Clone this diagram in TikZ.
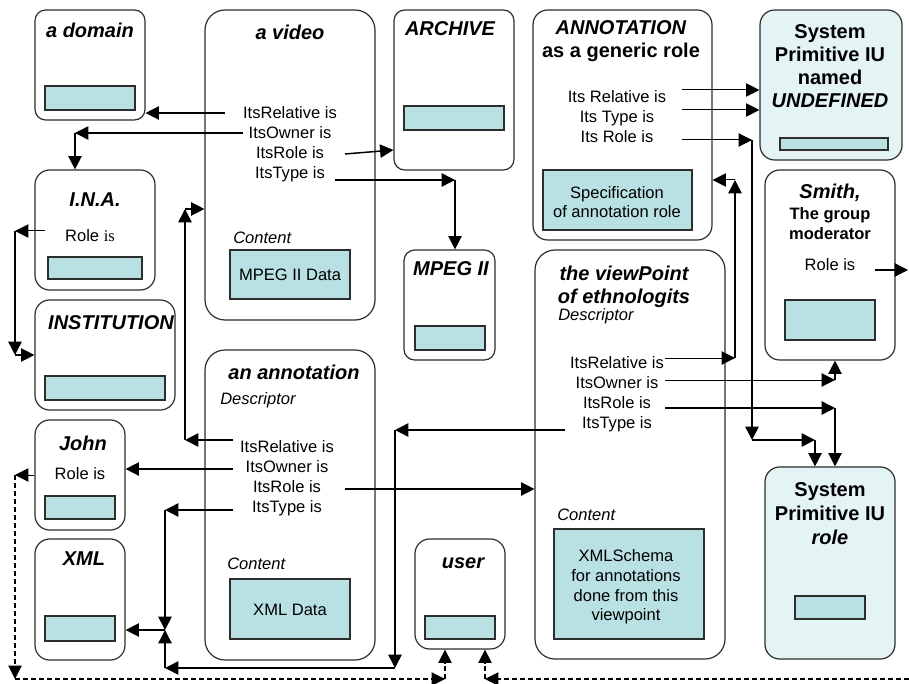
\documentclass[tikz,border=0pt]{standalone}
\usepackage{fontspec}
\setmainfont{Liberation Sans}
\newfontfamily\serifis{Liberation Serif}
\usetikzlibrary{arrows.meta,fit}
\definecolor{slotcyan}{RGB}{185,224,227}
\definecolor{syscyan}{RGB}{228,243,244}
\definecolor{boxline}{RGB}{45,45,45}
\tikzset{
	ubox/.style = {draw = boxline, line width = 0.9pt, rounded corners = 8pt, inner sep = 0pt},
	bigubox/.style = {ubox, rounded corners = 15pt},
	sysubox/.style = {ubox, rounded corners = 11pt, fill = syscyan},
	slot/.style = {draw = boxline, line width = 0.9pt, fill = slotcyan, inner sep = 0pt},
	slottxt/.style = {inner sep = 0pt, align = center, font = \fontsize{12.4}{14.8}\selectfont},
	ttl/.style = {inner sep = 0pt, align = center, font = \fontsize{15}{17.6}\selectfont\bfseries\itshape},
	systtl/.style = {inner sep = 0pt, align = center, font = \fontsize{15}{17.4}\selectfont\bfseries},
	lbl/.style = {inner sep = 0pt, text height = 9pt, text depth = 1pt, font = \fontsize{12.4}{14.6}\selectfont},
	sublbl/.style = {lbl, anchor = west, font = \fontsize{12.4}{14.6}\selectfont\itshape},
	conn/.style = {line width = 1.1pt, -{Triangle[length = 10pt, width = 10pt]}},
	thinconn/.style = {conn, line width = 0.75pt},
	dashconn/.style = {conn, line width = 0.8pt, dash pattern = on 3.5pt off 2.5pt}
}
\begin{document}
\begin{tikzpicture}[x = 0.75pt, y = -0.75pt]
		\useasboundingbox (0, 0) rectangle (909, 684);
		\node [ubox, fit = {(35, 10) (145, 120)}](domain) {};
		\node [bigubox, fit = {(205, 10) (375, 320)}](video) {};
		\node [ubox, fit = {(394, 10) (514, 170)}](archive) {};
		\node [ubox, rounded corners = 11pt, fit = {(533, 10) (712, 240)}](annot_role) {};
		\node [sysubox, fit = {(760, 10) (902, 160)}](undefined) {};
		\node [ubox, rounded corners = 11pt, fit = {(35, 170) (155, 290)}](ina) {};
		\node [ubox, rounded corners = 11pt, fit = {(35, 300) (175, 410)}](institution) {};
		\node [ubox, fit = {(404, 250) (495, 360)}](mpeg) {};
		\node [ubox, rounded corners = 11pt, fit = {(765, 170) (895, 360)}](smith) {};
		\node [bigubox, fit = {(535, 250) (725, 659)}](viewpoint) {};
		\node [bigubox, fit = {(205, 350) (375, 660)}](annotation) {};
		\node [ubox, rounded corners = 11pt, fit = {(35, 420) (125, 530)}](john) {};
		\node [ubox, rounded corners = 11pt, fit = {(35, 539) (125, 660)}](xml) {};
		\node [ubox, rounded corners = 11pt, fit = {(415, 539) (505, 649)}](user) {};
		\node [sysubox, fit = {(765, 467) (895, 659)}](sysrole) {};

		\node [slot, fit = {(45, 86) (135, 110)}](domain_c) {};
		\node [slot, fit = {(404, 106) (504, 130)}](archive_c) {};
		\node [slot, fit = {(780, 138) (888, 150)}](undefined_c) {};
		\node [slot, fit = {(48, 257) (142, 279)}](ina_c) {};
		\node [slot, fit = {(45, 376) (165, 400)}](institution_c) {};
		\node [slot, fit = {(415, 326) (485, 350)}](mpeg_c) {};
		\node [slot, fit = {(785, 300) (875, 340)}](smith_c) {};
		\node [slot, fit = {(45, 496) (115, 519)}](john_c) {};
		\node [slot, fit = {(45, 616) (115, 641)}](xml_c) {};
		\node [slot, fit = {(425, 616) (495, 639)}](user_c) {};
		\node [slot, fit = {(795, 596) (865, 619)}](sysrole_c) {};
		\node [slot, fit = {(230, 250) (350, 299)}](video_data) {};
		\node [slot, fit = {(230, 579) (350, 639)}](annot_data) {};
		\node [slot, fit = {(543, 170) (692, 230)}](spec_data) {};
		\node [slot, fit = {(554, 529) (704, 639)}](schema_data) {};
		\node [slottxt](video_data_t) at (290, 275) {MPEG II Data};
		\node [slottxt](annot_data_t) at (290, 610) {XML Data};
		\node [slottxt](spec_data_t) at (617, 202) {Specification\\of annotation role};
		\node [slottxt](schema_data_t) at (626, 587) {XMLSchema\\for annotations\\done from this\\viewpoint};

		\node [ttl](domain_t) at (90, 30) {a domain};
		\node [ttl](video_t) at (290, 32) {a video};
		\node [ttl](archive_t) at (450, 29) {ARCHIVE};
		\node [systtl](annot_role_t) at (621, 41) {\textit{ANNOTATION}\\as a generic role};
		\node [systtl](undefined_t) at (830, 66) {System\\Primitive IU\\named\\\textit{UNDEFINED}};
		\node [ttl](ina_t) at (95, 200) {I.N.A.};
		\node [ttl](institution_t) at (111, 323) {INSTITUTION};
		\node [ttl](john_t) at (83, 443) {John};
		\node [ttl](xml_t) at (84, 559) {XML};
		\node [ttl](annotation_t) at (294, 372) {an annotation};
		\node [ttl](mpeg_t) at (451, 269) {MPEG II};
		\node [ttl](user_t) at (463, 563) {user};
		\node [ttl](viewpoint_t) at (624, 287) {the viewPoint\\of ethnologits};
		\node [ttl](smith_t) at (830, 193) {Smith,};
		\node [systtl, font = \fontsize{12.4}{15}\selectfont\bfseries](smith_sub) at (830, 224) {The group\\moderator};
		\node [systtl, font = \fontsize{15}{18}\selectfont\bfseries](sysrole_t) at (830, 514) {System\\Primitive IU\\\textit{role}};

		\node [sublbl](video_content) at (233, 238) {Content};
		\node [sublbl](annot_descr) at (220, 399) {Descriptor};
		\node [sublbl](annot_content) at (227, 564) {Content};
		\node [sublbl](view_descr) at (558, 315) {Descriptor};
		\node [sublbl](view_content) at (557, 515) {Content};

		\node [lbl](v_rel_t) at (290, 113) {ItsRelative is};
		\node [lbl](v_own_t) at (290, 133) {ItsOwner is};
		\node [lbl](v_role_t) at (290, 153) {ItsRole is};
		\node [lbl](v_type_t) at (290, 173) {ItsType is};
		\node [lbl](a_rel_t) at (287, 447) {ItsRelative is};
		\node [lbl](a_own_t) at (287, 467) {ItsOwner is};
		\node [lbl](a_role_t) at (287, 487) {ItsRole is};
		\node [lbl](a_type_t) at (287, 507) {ItsType is};
		\node [lbl](p_rel_t) at (617, 363) {ItsRelative is};
		\node [lbl](p_own_t) at (617, 383) {ItsOwner is};
		\node [lbl](p_role_t) at (617, 403) {ItsRole is};
		\node [lbl](p_type_t) at (617, 423) {ItsType is};
		\node [lbl](r_rel_t) at (617, 97) {Its Relative is};
		\node [lbl](r_type_t) at (617, 117) {Its Type is};
		\node [lbl](r_role_t) at (617, 137) {Its Role is};
		\node [lbl](ina_role_t) at (90, 236) {Role {\serifis is}};
		\node [lbl](john_role_t) at (80, 474) {Role is};
		\node [lbl](smith_role_t) at (830, 265) {Role is};

		\coordinate (v_rel) at (225, 113);
		\draw [conn] (v_rel) -- (v_rel -| domain.east);
		\coordinate (v_own) at (243, 133);
		\coordinate (v_own_k) at (75, 133);
		\draw [conn] (v_own) -- (v_own_k);
		\draw [conn] (v_own_k) -- (v_own_k |- ina.north);
		\coordinate (v_role) at (345, 154);
		\draw [conn] (v_role) -- ([yshift = 3pt]v_role -| archive.west);
		\coordinate (v_type) at (335, 180);
		\coordinate (v_type_k) at (455, 180);
		\draw [conn] (v_type) -- (v_type_k);
		\draw [conn] (v_type_k) -- (v_type_k |- mpeg.north);

		\coordinate (i_role) at (45, 231);
		\coordinate (i_role_k) at (15, 231);
		\draw [thinconn] (i_role) -- (i_role_k);
		\draw [conn] (i_role_k) -- (i_role_k |- institution.west);
		\draw [conn] (i_role_k |- institution.west) -- (institution.west);

		\coordinate (a_rel) at (233, 440);
		\coordinate (a_rel_k) at (185, 440);
		\coordinate (a_rel_k2) at (185, 209);
		\draw [conn] (a_rel) -- (a_rel_k);
		\draw [conn] (a_rel_k) -- (a_rel_k2);
		\draw [conn] (a_rel_k2) -- (a_rel_k2 -| video.west);
		\coordinate (a_own) at (233, 469);
		\draw [conn] (a_own) -- (a_own -| john.east);
		\coordinate (a_role) at (345, 489);
		\draw [conn] (a_role) -- (a_role -| viewpoint.west);
		\coordinate (a_type) at (233, 510);
		\coordinate (a_type_k) at (165, 510);
		\coordinate (x_join) at (165, 630);
		\draw [conn] (a_type) -- (a_type_k);
		\draw [conn] (a_type_k) -- (x_join);
		\draw [conn] (x_join) -- (x_join -| xml.east);

		\coordinate (p_rel) at (665, 358);
		\coordinate (p_rel_k) at (735, 358);
		\coordinate (p_rel_k2) at (735, 180);
		\draw [thinconn] (p_rel) -- (p_rel_k);
		\draw [conn] (p_rel_k) -- (p_rel_k2);
		\draw [thinconn] (p_rel_k2) -- (p_rel_k2 -| annot_role.east);
		\coordinate (p_own) at (665, 380);
		\coordinate (p_own_k) at (835, 380);
		\draw [thinconn] (p_own) -- (p_own_k);
		\draw [conn] (p_own_k) -- (p_own_k |- smith.south);
		\coordinate (p_role) at (665, 408);
		\coordinate (p_role_k) at (835, 408);
		\draw [conn] (p_role) -- (p_role_k);
		\draw [conn] (p_role_k) -- (p_role_k |- sysrole.north);
		\coordinate (p_type) at (565, 430);
		\coordinate (p_type_k) at (395, 430);
		\coordinate (p_type_k2) at (395, 668);
		\coordinate (p_type_k3) at (165, 668);
		\draw [conn] (p_type) -- (p_type_k);
		\draw [conn] (p_type_k) -- (p_type_k2);
		\draw [conn] (p_type_k2) -- (p_type_k3);
		\draw [conn] (p_type_k3) -- (x_join);

		\coordinate (r_rel) at (682, 90);
		\draw [thinconn] (r_rel) -- (r_rel -| undefined.west);
		\coordinate (r_type) at (682, 110);
		\draw [thinconn] (r_type) -- (r_type -| undefined.west);
		\coordinate (r_role) at (682, 140);
		\coordinate (r_role_k) at (752, 140);
		\coordinate (r_role_k2) at (752, 440);
		\coordinate (r_role_k3) at (815, 440);
		\draw [thinconn] (r_role) -- (r_role_k);
		\draw [conn] (r_role_k) -- (r_role_k2);
		\draw [conn] (r_role_k2) -- (r_role_k3);
		\draw [conn] (r_role_k3) -- (r_role_k3 |- sysrole.north);

		\coordinate (s_role) at (875, 270);
		\coordinate (s_out) at (908, 270);
		\draw [conn] (s_role) -- (s_out);

		\coordinate (j_k) at (15, 475);
		\coordinate (j_k2) at (15, 679);
		\coordinate (u_k) at (445, 679);
		\draw [thinconn] (john.west) -- (j_k);
		\draw [dashconn] (j_k) -- (j_k2);
		\draw [dashconn] (j_k2) -- (u_k);
		\draw [dashconn] (u_k) -- (u_k |- user.south);
		\coordinate (e_in) at (909, 679);
		\coordinate (u_k2) at (485, 679);
		\draw [dashconn] (e_in) -- (u_k2);
		\draw [dashconn] (u_k2) -- (u_k2 |- user.south);
\end{tikzpicture}
\end{document}
